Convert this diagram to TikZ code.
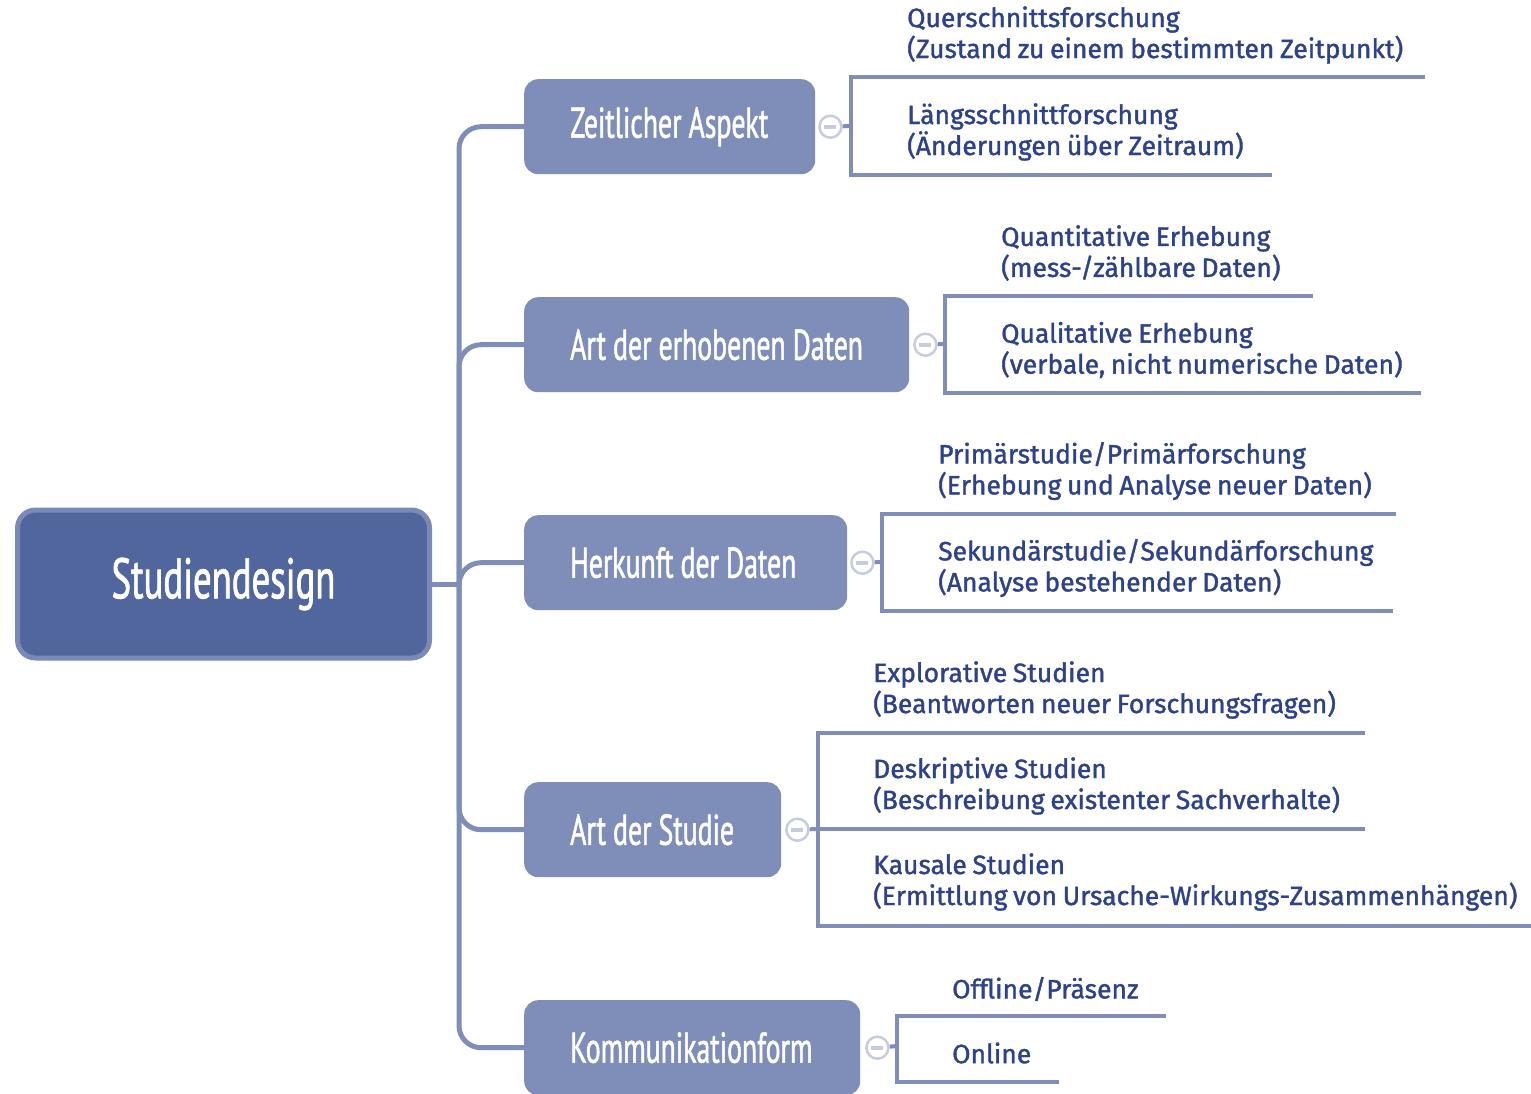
\documentclass[tikz,border=0pt]{standalone}
\usepackage{fontspec}
\setmainfont{Fira Sans}
\newfontfamily\condfont{PT Sans}[FakeStretch=0.645, FakeBold=1.2, WordSpace=0.95]
\newfontfamily\leaffont{Fira Sans}[FakeBold=1.4, WordSpace=0.8]
\definecolor{rootfill}{HTML}{50669C}
\definecolor{rootedge}{HTML}{7A8AB7}
\definecolor{branchfill}{HTML}{7F8EB9}
\definecolor{leaftext}{HTML}{2D4288}
\definecolor{knobedge}{HTML}{C5CCDD}
\tikzset{
  rootbox/.style={draw=rootedge, line width=5pt, fill=rootfill, rounded corners=18pt,
    text=white, font=\condfont\fontsize{57}{64}\selectfont, inner sep=0pt},
  branchbox/.style={fill=branchfill, rounded corners=14pt, text=white,
    font=\condfont\fontsize{43}{48}\selectfont, inner xsep=46pt,
    inner ysep=0pt, minimum height=95pt, anchor=north west},
  trunk/.style={draw=branchfill, line width=5pt, rounded corners=22pt},
  leafline/.style={draw=branchfill, line width=4pt},
  leafnode/.style={text=leaftext, font=\leaffont\fontsize{26.5}{31}\selectfont,
    align=left, anchor=west, inner sep=0pt},
  knob/.style={circle, draw=knobedge, line width=2.5pt, fill=white, minimum size=22pt,
    inner sep=0pt, path picture={\fill[knobedge] ([xshift=-6pt,yshift=-1.8pt]path picture bounding box.center) rectangle ([xshift=6pt,yshift=1.8pt]path picture bounding box.center);}}
}
\newcommand{\btext}[2]{\makebox[#1][l]{#2}}
\begin{document}
\begin{tikzpicture}[x=1pt,y=-1pt]
\useasboundingbox (0,0) rectangle (1531,1093);

% central topic
\node[rootbox, minimum width=412pt, minimum height=148pt] (root) at (223.5,584) {Studiendesign};

% main branches
\node[branchbox] (b1) at (524,79) {\btext{199pt}{Zeitlicher Aspekt}};
\node[branchbox] (b2) at (524,297) {\btext{293pt}{Art der erhobenen Daten}};
\node[branchbox] (b3) at (524,515) {\btext{231pt}{Herkunft der Daten}};
\node[branchbox] (b4) at (524,782) {\btext{165pt}{Art der Studie}};
\node[branchbox] (b5) at (524,1000) {\btext{244pt}{Kommunikationform}};

% trunk from the central topic to every branch
\draw[trunk] (root.east) -- (459,584) coordinate (hub);
\foreach \b in {b1,b2,b3,b4,b5}
  \draw[trunk] (hub) |- (\b.west);

% collapse knobs
\node[knob] (k1) at ([xshift=15pt]b1.east) {};
\node[knob] (k2) at ([xshift=16pt]b2.east) {};
\node[knob] (k3) at ([xshift=15pt]b3.east) {};
\node[knob] (k4) at ([xshift=16pt]b4.east) {};
\node[knob] (k5) at ([xshift=17pt]b5.east) {};

% leaves: Zeitlicher Aspekt
\node[leafnode] (l11) at (907,35) {Querschnittsforschung\\(Zustand zu einem bestimmten Zeitpunkt)};
\node[leafnode] (l12) at (907,132) {Längsschnittforschung\\(Änderungen über Zeitraum)};
\coordinate (g1) at (851,126);
\draw[leafline] (k1) -- (g1);
\draw[leafline] (1425,77) -- (851,77) -- (851,175) -- (1272,175);

% leaves: Art der erhobenen Daten
\node[leafnode] (l21) at (1001,253) {Quantitative Erhebung\\(mess-/zählbare Daten)};
\node[leafnode] (l22) at (1001,350) {Qualitative Erhebung\\(verbale, nicht numerische Daten)};
\coordinate (g2) at (945,344);
\draw[leafline] (k2) -- (g2);
\draw[leafline] (1313,296) -- (945,296) -- (945,393) -- (1421,393);

% leaves: Herkunft der Daten
\node[leafnode] (l31) at (938,471) {Primärstudie/Primärforschung\\(Erhebung und Analyse neuer Daten)};
\node[leafnode] (l32) at (938,568) {Sekundärstudie/Sekundärforschung\\(Analyse bestehender Daten)};
\coordinate (g3) at (882,562);
\draw[leafline] (k3) -- (g3);
\draw[leafline] (1396,514) -- (882,514) -- (882,611) -- (1393,611);

% leaves: Art der Studie
\node[leafnode] (l41) at (873,690) {Explorative Studien\\(Beantworten neuer Forschungsfragen)};
\node[leafnode] (l42) at (873,786) {Deskriptive Studien\\(Beschreibung existenter Sachverhalte)};
\node[leafnode] (l43) at (873,882) {Kausale Studien\\(Ermittlung von Ursache-Wirkungs-Zusammenhängen)};
\coordinate (g4) at (818,829);
\draw[leafline] (k4) -- (g4);
\draw[leafline] (1365,733) -- (818,733) -- (818,926) -- (1531,926);
\draw[leafline] (g4) -- (1365,829);

% leaves: Kommunikationform
\node[leafnode] (l51) at (952,989) {Offline/Präsenz};
\node[leafnode] (l52) at (952,1053) {Online};
\coordinate (g5) at (897,1046);
\draw[leafline] (k5) -- (g5);
\draw[leafline] (1166,1016) -- (897,1016) -- (897,1082) -- (1059,1082);
\end{tikzpicture}
\end{document}
